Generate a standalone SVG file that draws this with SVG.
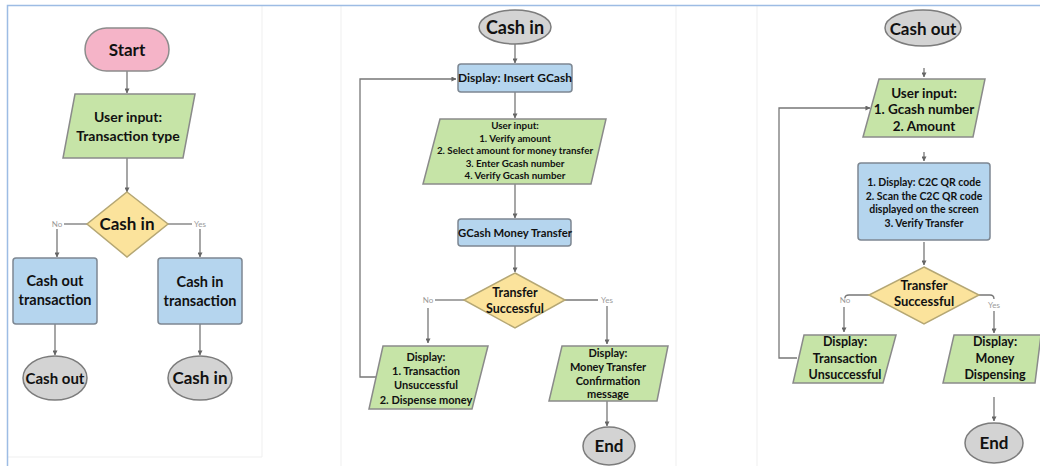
<svg xmlns="http://www.w3.org/2000/svg" width="1040" height="466" viewBox="0 0 1040 466">
<style>
text{font-family:Lato,"Liberation Sans",sans-serif;font-weight:700;fill:#111;text-anchor:middle}
.term{fill:#d3d3d3;stroke:#7c7c7c;stroke-width:1.5}
.start{fill:#f5b4c8;stroke:#8c8c8c;stroke-width:1.5}
.io{fill:#c6e4a7;stroke:#8a8a8a;stroke-width:1.5}
.proc{fill:#b5d5ee;stroke:#7d8792;stroke-width:1.5}
.dec{fill:#fbe39c;stroke:#b5a774;stroke-width:1.5}
.c path{fill:none;stroke:#777;stroke-width:1.3}
.lbl{font-size:8px;font-weight:400;fill:#999}
.panel{stroke:#efefef;stroke-width:1;fill:none}
</style>
<defs>
<marker id="ah" viewBox="0 0 6 6" refX="5.5" refY="3" markerWidth="5" markerHeight="5" orient="auto" markerUnits="userSpaceOnUse">
<path d="M0,0 L6,3 L0,6 Z" fill="#666"/>
</marker>
</defs>
<rect width="1040" height="466" fill="#fff"/>
<g id="frame">
<path d="M262,6 V457 H8" class="panel"/>
<path d="M341,6 V466 M676,6 V466 M757,6 V466" class="panel"/>
<path d="M7.5,466 V5.5 H1040" fill="none" stroke="#9dbce4" stroke-width="1.5"/>
</g>
<g class="c" id="connectors">
<path d="M127,71 V93" marker-end="url(#ah)"/>
<path d="M127,158 V192" marker-end="url(#ah)"/>
<path d="M87,224 H64"/>
<path d="M57,229 V257" marker-end="url(#ah)"/>
<path d="M168,224 H192"/>
<path d="M200,229 V257" marker-end="url(#ah)"/>
<path d="M55,324 V355" marker-end="url(#ah)"/>
<path d="M200,324 V355" marker-end="url(#ah)"/>
<path d="M515,44 V63" marker-end="url(#ah)"/>
<path d="M515,92 V118" marker-end="url(#ah)"/>
<path d="M515,184 V218" marker-end="url(#ah)"/>
<path d="M515,246 V272" marker-end="url(#ah)"/>
<path d="M464,300 H435"/>
<path d="M428,308 V343" marker-end="url(#ah)"/>
<path d="M565,300 H598"/>
<path d="M607,306 V344" marker-end="url(#ah)"/>
<path d="M607,401 V426" marker-end="url(#ah)"/>
<path d="M376,377 H360 V79 H456" marker-end="url(#ah)"/>
<path d="M924,68 V77" marker-end="url(#ah)"/>
<path d="M924,152 V161" marker-end="url(#ah)"/>
<path d="M924,242 V265" marker-end="url(#ah)"/>
<path d="M869,295 H849 Q845,295 845,298"/>
<path d="M844,307 V332" marker-end="url(#ah)"/>
<path d="M979,295 H990 Q994,295 994,299"/>
<path d="M994,311 V333" marker-end="url(#ah)"/>
<path d="M994,397 V421" marker-end="url(#ah)"/>
<path d="M797,358 H779 V108 H870" marker-end="url(#ah)"/>
<text class="lbl" x="57" y="227">No</text>
<text class="lbl" x="200" y="227">Yes</text>
<text class="lbl" x="428" y="303">No</text>
<text class="lbl" x="607" y="303">Yes</text>
<text class="lbl" x="845" y="303">No</text>
<text class="lbl" x="994" y="308">Yes</text>
</g>
<g id="start"><rect x="85" y="28" width="84" height="43" rx="21.5" class="start"/><text x="127" y="56" font-size="17">Start</text></g>
<g id="input-type"><polygon points="75,94 195,94 183,158 63,158" class="io"/><text x="128" y="122" font-size="14">User input:</text><text x="128" y="141" font-size="14">Transaction type</text></g>
<g id="dec-cashin"><polygon points="127,192 168,224 127,257 87,224" class="dec"/><text x="127" y="230" font-size="17">Cash in</text></g>
<g id="cashout-tx"><rect x="13" y="258" width="84" height="66" rx="3" class="proc"/><text x="55" y="286" font-size="14.5">Cash out</text><text x="55" y="305" font-size="14.5">transaction</text></g>
<g id="cashin-tx"><rect x="158" y="258" width="84" height="66" rx="3" class="proc"/><text x="200" y="287" font-size="14.5">Cash in</text><text x="200" y="306" font-size="14.5">transaction</text></g>
<g id="cashout-end1"><ellipse cx="55" cy="378" rx="32" ry="22" class="term"/><text x="55" y="384" font-size="15">Cash out</text></g>
<g id="cashin-end1"><ellipse cx="200" cy="378" rx="32" ry="22" class="term"/><text x="200" y="384" font-size="17">Cash in</text></g>
<g id="cashin-start"><ellipse cx="515" cy="27" rx="36" ry="17" class="term"/><text x="515" y="34" font-size="18">Cash in</text></g>
<g id="insert-gcash"><rect x="458" y="64" width="114" height="28" rx="3" class="proc"/><text x="515" y="82" font-size="12">Display: Insert GCash</text></g>
<g id="input-amount"><polygon points="440,119 606,119 591,184 423,184" class="io"/><text x="515" y="129" font-size="9.8">User input:</text><text x="515" y="141.5" font-size="9.8">1. Verify amount</text><text x="515" y="154" font-size="9.8">2. Select amount for money transfer</text><text x="515" y="166.5" font-size="9.8">3. Enter Gcash number</text><text x="515" y="179" font-size="9.8">4. Verify Gcash number</text></g>
<g id="gcash-transfer"><rect x="458" y="219" width="113" height="27" rx="3" class="proc"/><text x="515" y="237" font-size="11.3">GCash Money Transfer</text></g>
<g id="dec-transfer1"><polygon points="515,273 565,300 515,328 464,300" class="dec"/><text x="515" y="297" font-size="12.5">Transfer</text><text x="515" y="313" font-size="12.5">Successful</text></g>
<g id="fail1"><polygon points="383,346 488,346 472,409 369,409" class="io"/><text x="426" y="361" font-size="11">Display:</text><text x="426" y="375" font-size="11">1. Transaction</text><text x="426" y="389" font-size="11">Unsuccessful</text><text x="426" y="404" font-size="11">2. Dispense money</text></g>
<g id="ok1"><polygon points="562,346 668,346 657,401 549,401" class="io"/><text x="608" y="357" font-size="11">Display:</text><text x="608" y="371" font-size="11">Money Transfer</text><text x="608" y="385" font-size="11">Confirmation</text><text x="608" y="398" font-size="11">message</text></g>
<g id="end1"><ellipse cx="609" cy="446" rx="26" ry="19" class="term"/><text x="609" y="452" font-size="17">End</text></g>
<g id="cashout-start"><ellipse cx="923" cy="28" rx="38" ry="18" class="term"/><text x="923" y="35" font-size="17">Cash out</text></g>
<g id="input-gcash"><polygon points="879,79 985,79 973,137 863,137" class="io"/><text x="924" y="98" font-size="13.5">User input:</text><text x="924" y="114" font-size="13.5">1. Gcash number</text><text x="924" y="131" font-size="13.5">2. Amount</text></g>
<g id="qr"><rect x="858" y="163" width="132" height="77" rx="3" class="proc"/><text x="924" y="186" font-size="10.5">1. Display: C2C QR code</text><text x="924" y="199.5" font-size="10.5">2. Scan the C2C QR code</text><text x="924" y="213" font-size="10.5">displayed on the screen</text><text x="924" y="226.5" font-size="10.5">3. Verify Transfer</text></g>
<g id="dec-transfer2"><polygon points="924,267 979,295 924,324 869,295" class="dec"/><text x="924" y="290" font-size="13">Transfer</text><text x="924" y="306" font-size="13">Successful</text></g>
<g id="fail2"><polygon points="804,335 896,335 883,383 793,383" class="io"/><text x="845" y="346" font-size="12.5">Display:</text><text x="845" y="363" font-size="12.5">Transaction</text><text x="845" y="379" font-size="12.5">Unsuccessful</text></g>
<g id="ok2"><polygon points="954,335 1041,335 1035,383 943,383" class="io"/><text x="995" y="346" font-size="12.5">Display:</text><text x="995" y="363" font-size="12.5">Money</text><text x="995" y="379" font-size="12.5">Dispensing</text></g>
<g id="end2"><ellipse cx="994" cy="443" rx="29" ry="20" class="term"/><text x="994" y="449" font-size="17">End</text></g>
</svg>
